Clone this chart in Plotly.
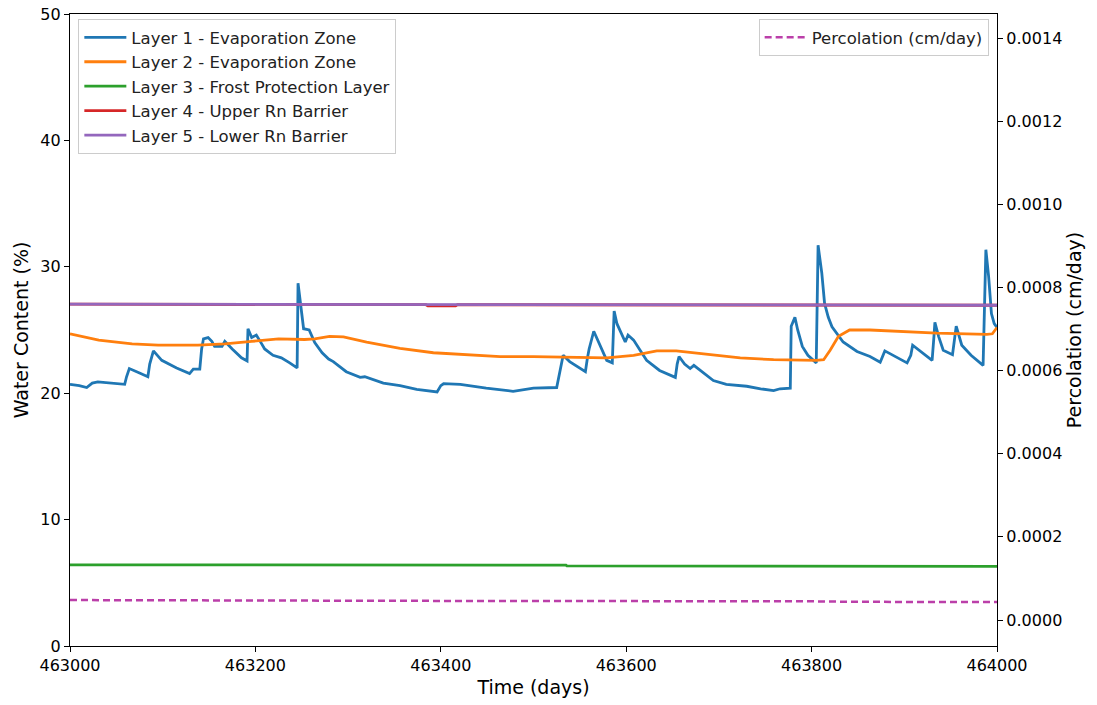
import plotly.graph_objects as go

# ---- data -------------------------------------------------------------
layer1_days = [463000, 463010, 463018, 463024, 463030, 463045, 463059, 463061, 463064, 463075,
               463084, 463086, 463090, 463099, 463115, 463129, 463133, 463140, 463142, 463144,
               463149, 463153, 463156, 463164, 463167, 463175, 463185, 463191, 463192, 463196,
               463201, 463206, 463210, 463219, 463228, 463237, 463245, 463246, 463248, 463250,
               463252, 463258, 463264, 463272, 463279, 463284, 463298, 463313, 463318, 463338,
               463356, 463374, 463396, 463400, 463403, 463421, 463449, 463478, 463500, 463525,
               463528, 463532, 463539, 463556, 463558, 463560, 463565, 463572, 463579, 463585,
               463586, 463587, 463590, 463593, 463599, 463602, 463608, 463615, 463622, 463636,
               463653, 463655, 463657, 463663, 463669, 463673, 463683, 463694, 463708, 463730,
               463745, 463759, 463766, 463777, 463778, 463782, 463785, 463790, 463796, 463805,
               463807, 463809, 463811, 463814, 463818, 463822, 463834, 463849, 463863, 463874,
               463879, 463903, 463907, 463909, 463930, 463932, 463933, 463937, 463942, 463952,
               463954, 463956, 463962, 463972, 463985, 463987, 463988, 463991, 463994, 463997,
               464000]
layer1_wc = [20.7, 20.6, 20.45, 20.8, 20.9, 20.8, 20.7, 21.3, 21.95, 21.6,
             21.3, 22.3, 23.35, 22.6, 22.0, 21.55, 21.9, 21.9, 23.5, 24.3,
             24.4, 24.1, 23.7, 23.7, 24.1, 23.5, 22.8, 22.55, 25.1, 24.4,
             24.6, 24.0, 23.5, 23.0, 22.8, 22.4, 22.0, 28.7, 27.5, 26.0,
             25.1, 25.0, 24.0, 23.2, 22.7, 22.5, 21.7, 21.25, 21.3, 20.8,
             20.6, 20.3, 20.1, 20.6, 20.75, 20.7, 20.4, 20.15, 20.4, 20.45,
             21.5, 23.0, 22.5, 21.7, 22.7, 23.5, 24.9, 23.8, 22.6, 22.4,
             25.0, 26.5, 25.5, 25.0, 24.05, 24.6, 24.2, 23.4, 22.6, 21.8,
             21.25, 22.3, 22.9, 22.3, 21.95, 22.2, 21.6, 21.0, 20.7, 20.55,
             20.35, 20.2, 20.35, 20.4, 25.3, 26.0, 25.0, 23.7, 23.0, 22.4,
             31.7, 30.5, 29.5, 27.1, 26.0, 25.25, 24.05, 23.3, 22.9, 22.45,
             23.35, 22.4, 23.0, 23.8, 22.6, 24.5, 25.6, 24.5, 23.4, 23.05,
             24.2, 25.3, 23.8, 23.0, 22.2, 29.0, 31.35, 29.2, 26.3, 25.5,
             25.2]

layer2_days = [463000, 463031, 463067, 463095, 463138, 463167, 463196, 463225, 463253, 463264,
               463280, 463295, 463320, 463356, 463392, 463428, 463464, 463500, 463536, 463579,
               463608, 463633, 463654, 463687, 463723, 463759, 463805, 463813, 463820, 463829,
               463841, 463863, 463935, 463989, 463995, 464000]
layer2_wc = [24.7, 24.2, 23.9, 23.8, 23.8, 23.9, 24.1, 24.3, 24.25, 24.3,
             24.5, 24.45, 24.05, 23.55, 23.2, 23.05, 22.9, 22.9, 22.85, 22.8,
             23.0, 23.35, 23.35, 23.1, 22.8, 22.65, 22.6, 22.65, 23.4, 24.5,
             25.0, 25.0, 24.75, 24.65, 24.7, 25.2]

layer3_days = [463000, 463535, 463536, 463670, 463671, 464000]
layer3_wc = [6.42, 6.40, 6.34, 6.34, 6.32, 6.30]

layer4_days = [463000, 463384, 463386, 463416, 463418, 463520, 463530, 464000]
layer4_wc = [27.04, 27.0, 26.92, 26.92, 27.0, 27.0, 26.96, 26.96]

layer5_days = [463000, 463520, 463530, 464000]
layer5_wc = [27.04, 27.0, 26.96, 26.96]

perc_days = [463000, 463300, 463310, 463400, 463800, 463850, 464000]
perc_cm_day = [4.8e-5, 4.78e-5, 4.65e-5, 4.6e-5, 4.5e-5, 4.38e-5, 4.32e-5]

layer_names = ["Layer 1 - Evaporation Zone", "Layer 2 - Evaporation Zone",
               "Layer 3 - Frost Protection Layer", "Layer 4 - Upper Rn Barrier",
               "Layer 5 - Lower Rn Barrier"]
layer_colors = ["#1f77b4", "#ff7f0e", "#2ca02c", "#d62728", "#9467bd"]

x_ticks = [463000, 463200, 463400, 463600, 463800, 464000]
y_ticks = [0, 10, 20, 30, 40, 50]
y2_ticks = [0.0, 0.0002, 0.0004, 0.0006, 0.0008, 0.0010, 0.0012, 0.0014]

# ---- figure -----------------------------------------------------------
FONT = "DejaVu Sans"
TITLE_FONT = dict(family=FONT, size=19, color="black")
fig = go.Figure()

series = [(layer1_days, layer1_wc), (layer2_days, layer2_wc), (layer3_days, layer3_wc),
          (layer4_days, layer4_wc), (layer5_days, layer5_wc)]
for (d, v), name, col in zip(series, layer_names, layer_colors):
    fig.add_trace(go.Scatter(x=d, y=v, mode="lines", name=name,
                             line=dict(color=col, width=2.8), legend="legend"))

fig.add_trace(go.Scatter(x=perc_days, y=perc_cm_day, mode="lines", name="Percolation (cm/day)",
                         line=dict(color="#bb3fa9", width=2.5, dash="7px,4px"),
                         yaxis="y2", legend="legend2"))

axis_common = dict(showline=True, linecolor="black", linewidth=1.3, ticks="outside",
                   ticklen=5, tickwidth=1.3, tickcolor="black", showgrid=False, zeroline=False,
                   automargin=False,
                   tickfont=dict(family=FONT, size=16, color="black"))

legend_style = dict(bgcolor="rgba(255,255,255,0.85)", bordercolor="#cccccc", borderwidth=1,
                    itemwidth=42, font=dict(family=FONT, size=16.5, color="#222222"))

fig.update_layout(
    width=1097, height=705,
    margin=dict(l=70, r=100, t=14, b=59),
    paper_bgcolor="white", plot_bgcolor="white",
    font=dict(family=FONT, color="black"),
    xaxis=dict(range=[463000, 464000], tickvals=x_ticks, ticktext=[str(t) for t in x_ticks],
               mirror=True, title=dict(text="Time (days)", font=TITLE_FONT, standoff=6),
               **axis_common),
    yaxis=dict(range=[0, 50], tickvals=y_ticks,
               title=dict(text="Water Content (%)", font=TITLE_FONT, standoff=6),
               **axis_common),
    yaxis2=dict(range=[-0.0000625, 0.001458], overlaying="y", side="right", anchor="x",
                tickvals=y2_ticks, tickformat=".4f",
                title=dict(text="Percolation (cm/day)", font=TITLE_FONT, standoff=6),
                **axis_common),
    legend=dict(x=0.009, y=0.992, xanchor="left", yanchor="top", **legend_style),
    legend2=dict(x=0.991, y=0.992, xanchor="right", yanchor="top", **legend_style),
)

fig.write_html("out.html")
